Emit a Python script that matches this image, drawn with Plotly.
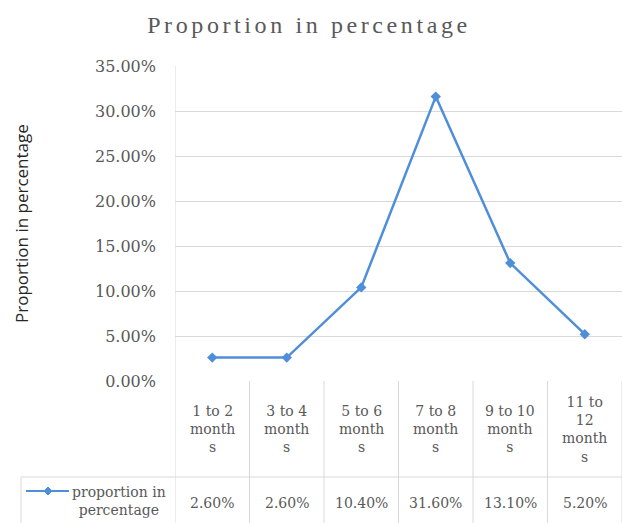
import plotly.graph_objects as go

categories = ["1 to 2 months", "3 to 4 months", "5 to 6 months", "7 to 8 months", "9 to 10 months", "11 to 12 months"]
header_labels = ["1 to 2<br>month<br>s", "3 to 4<br>month<br>s", "5 to 6<br>month<br>s",
                 "7 to 8<br>month<br>s", "9 to 10<br>month<br>s", "11 to<br>12<br>month<br>s"]
values = [0.026, 0.026, 0.104, 0.316, 0.131, 0.052]
value_labels = ["2.60%", "2.60%", "10.40%", "31.60%", "13.10%", "5.20%"]
series_name = "proportion in percentage"
title_text = "Proportion in percentage"
y_title = "Proportion in percentage"

W, H = 623, 523
def px(x):
    return x / W
def py(y):
    return 1 - y / H

LINE_COLOR = "#4F8FD9"
GRID = "#D9D9D9"
TXT = "#595959"
SERIF = "DejaVu Serif, serif"
TSERIF = "Liberation Serif, serif"

x_idx = list(range(len(categories)))

fig = go.Figure()
fig.add_trace(go.Scatter(
    x=x_idx, y=values, mode="lines+markers", name=series_name,
    line=dict(color=LINE_COLOR, width=2.5),
    marker=dict(symbol="diamond", size=8, color=LINE_COLOR),
    showlegend=False, hoverinfo="skip"))

y_top = py(66)
y_zero = py(381)
y_row = py(477)

fig.update_layout(
    width=W, height=H, margin=dict(l=0, r=0, t=0, b=0, pad=0, autoexpand=False),
    showlegend=False,
    paper_bgcolor="white", plot_bgcolor="white",
    xaxis=dict(domain=[px(175), px(622)], range=[-0.5, len(categories) - 0.5], automargin=False,
               showticklabels=False, showgrid=False, zeroline=False, showline=False, fixedrange=True),
    yaxis=dict(domain=[y_zero, y_top], range=[0, 0.35], dtick=0.05, tick0=0, automargin=False,
               tickformat=".2%", showgrid=True, gridcolor=GRID, gridwidth=1,
               zeroline=False, showline=False, ticks="", ticklabelstandoff=18,
               tickfont=dict(family=SERIF, size=16, color=TXT), fixedrange=True),
    title=dict(text=title_text, x=0.5 * (px(145) + px(473)), xanchor="center",
               y=py(25), yanchor="middle", automargin=False,
               font=dict(family=TSERIF, size=24, color=TXT)),
)

shapes = []
line_style = dict(color=GRID, width=1)
shapes.append(dict(type="line", xref="x", yref="paper", x0=-0.5, x1=-0.5, y0=0, y1=y_top, line=line_style))
for i in range(1, len(categories) + 1):
    shapes.append(dict(type="line", xref="x", yref="paper", x0=i - 0.5, x1=i - 0.5, y0=0, y1=y_zero, line=line_style))
shapes.append(dict(type="line", xref="paper", yref="paper", x0=px(21), x1=px(622), y0=y_row, y1=y_row, line=line_style))
shapes.append(dict(type="line", xref="paper", yref="paper", x0=px(21), x1=px(21), y0=0, y1=y_row, line=line_style))
shapes.append(dict(type="line", xref="paper", yref="paper", x0=px(26), x1=px(69), y0=py(491), y1=py(491),
                   line=dict(color=LINE_COLOR, width=2)))
cx, cy, r = 48, 491, 4
shapes.append(dict(type="path", xref="paper", yref="paper",
                   path=f"M {px(cx)} {py(cy - r)} L {px(cx + r)} {py(cy)} L {px(cx)} {py(cy + r)} L {px(cx - r)} {py(cy)} Z",
                   fillcolor=LINE_COLOR, line=dict(color=LINE_COLOR, width=1)))
fig.update_layout(shapes=shapes)

ann = []
for i, lab in enumerate(header_labels):
    ann.append(dict(x=i, y=(y_zero + y_row) / 2, xref="x", yref="paper", text=lab, showarrow=False,
                    xanchor="center", yanchor="middle", align="center",
                    font=dict(family=SERIF, size=14, color=TXT)))
for i, lab in enumerate(value_labels):
    ann.append(dict(x=i, y=py(503), xref="x", yref="paper", text=lab, showarrow=False,
                    xanchor="center", yanchor="middle",
                    font=dict(family=SERIF, size=14, color=TXT)))
ann.append(dict(x=px(119), y=py(501), xref="paper", yref="paper", text="proportion in<br>percentage",
                showarrow=False, xanchor="center", yanchor="middle", align="center",
                font=dict(family=SERIF, size=14, color=TXT)))
ann.append(dict(x=px(22), y=py(224), xref="paper", yref="paper", text=y_title, textangle=-90,
                showarrow=False, xanchor="center", yanchor="middle",
                font=dict(family="Open Sans, sans-serif", size=17, color="#262626")))
fig.update_layout(annotations=ann)

post = """
var t = document.querySelectorAll('.gtitle');
t.forEach(function(e){ e.style.letterSpacing = '3.6px'; });
"""
fig.write_html("out.html", post_script=post, config={"displayModeBar": False, "staticPlot": True})
